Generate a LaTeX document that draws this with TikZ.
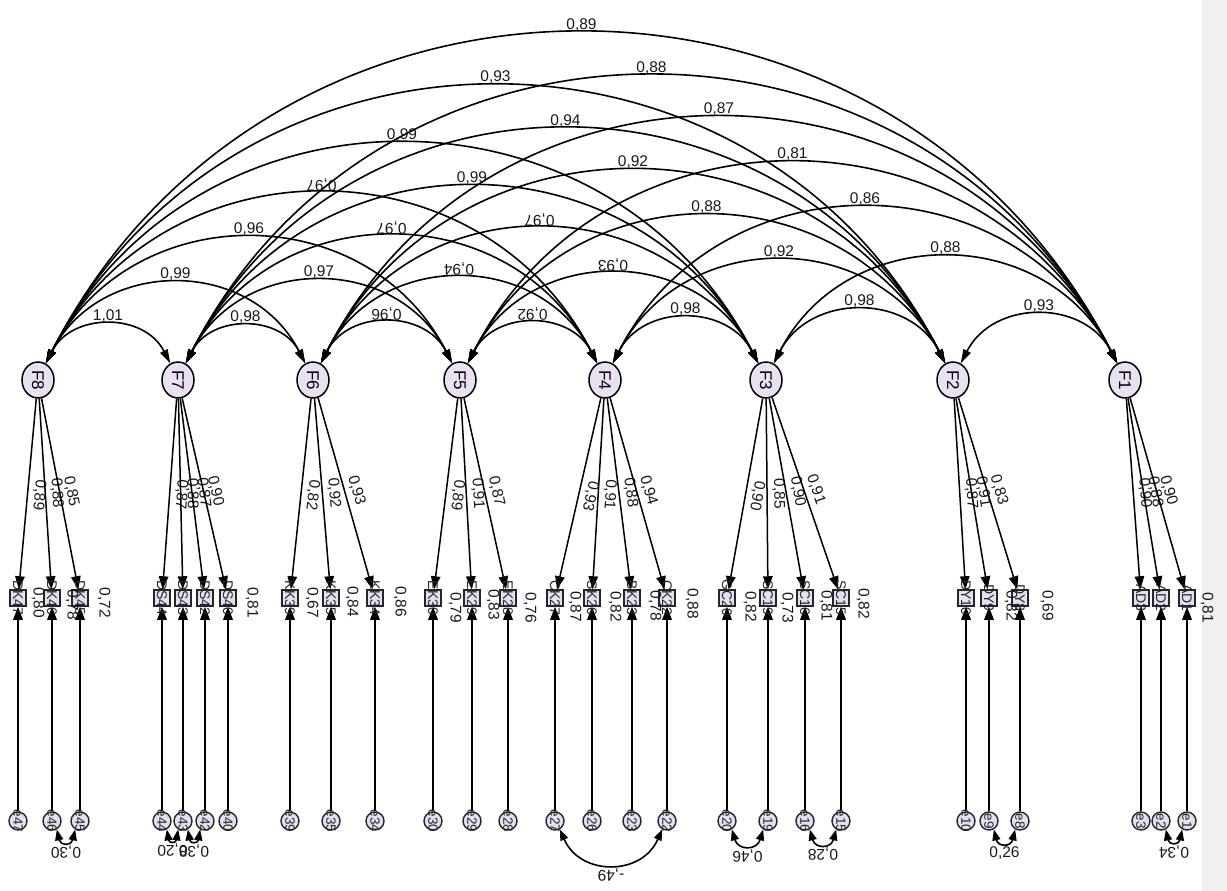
\documentclass[tikz,border=0pt]{standalone}
\usepackage{fontspec}
\setmainfont{Liberation Sans}
\usetikzlibrary{arrows.meta,shapes.geometric,calc}
\definecolor{facfill}{HTML}{E9E1F2}
\definecolor{obsfill}{HTML}{E6DEF2}
\definecolor{stripcol}{HTML}{F0F0F0}
\tikzset{
  fac/.style={ellipse, draw=black, line width=1.5pt, fill=facfill, minimum width=32pt, minimum height=36pt, inner sep=0pt},
  obs/.style={rectangle, draw=black!85, line width=1.5pt, fill=obsfill, minimum size=16pt, inner sep=0pt},
  err/.style={circle, draw=black!85, line width=1.4pt, fill=obsfill, minimum size=18pt, inner sep=0pt},
  lab/.style={font=\fontsize{15.5}{17}\selectfont, text=black!90},
  ftxt/.style={font=\fontsize{17}{18}\selectfont, rotate=-90, inner sep=0pt},
  otxt/.style={font=\fontsize{14}{15}\selectfont, rotate=-90, inner sep=0pt, text=black!85},
  etxt/.style={font=\fontsize{13.5}{14}\selectfont, rotate=-90, inner sep=0pt, text=black!85},
  cov/.style={line width=1.6pt, {Triangle[length=14pt,width=8pt]}-{Triangle[length=14pt,width=8pt]}},
  ecovst/.style={line width=1.6pt, {Triangle[length=11pt,width=8pt]}-{Triangle[length=11pt,width=8pt]}},
  load/.style={line width=1.5pt, -{Triangle[length=13pt,width=9.5pt]}},
  lup/.style={lab, anchor=south, inner sep=2pt},
  lud/.style={lab, rotate=180, anchor=north, inner sep=2pt},
  ldn/.style={lab, rotate=180, anchor=south, inner sep=3pt},
  ldnu/.style={lab, anchor=north, inner sep=3pt},
  ldlab/.style={lab, sloped, allow upside down, pos=0.5, above=3pt, inner sep=1.5pt},
  r2/.style={lab, rotate=-90, inner sep=0pt},
}
% arc between two factors (left #1, right #2)
\newcommand\facarc[4]{%
  \draw[cov] let \p1=(#1.65), \p2=(#2.115), \n1={\x2-\x1} in
    (\p1) .. controls +({0.21*\n1},{0.41*\n1}) and +({-0.21*\n1},{0.41*\n1}) .. (\p2)
    node[midway,#4] (L#1#2) {#3};}
% covariance between two error terms (left #1, right #2)
\newcommand\errcov[4]{%
  \draw[ecovst] let \p1=(#1.-60), \p2=(#2.-120), \n1={\x2-\x1} in
    (\p1) .. controls +({0.2*\n1},{-0.36*\n1-10pt}) and +({-0.2*\n1},{-0.36*\n1-10pt}) .. (\p2)
    node[midway,#4] (C#1#2) {#3};}
% indicator: #1 number, #2 x, #3 factor, #4 box text, #5 loading
\newcommand\ind[5]{%
  \node[obs] (b#1) at (#2,598) {};
  \node[err] (e#1) at (#2,821) {};
  \draw[load] (#3) -- node[ldlab] (ld#1) {#5} (b#1);
  \draw[load] (e#1) -- (b#1);
  \node[otxt] (b#1t) at (b#1) {#4};
  \node[etxt] (e#1t) at (e#1) {e#1};
}
\begin{document}
\begin{tikzpicture}[x=1pt,y=-1pt]
\useasboundingbox (0,0) rectangle (1227,891);
\fill[white] (0,0) rectangle (1227,891);
\fill[stripcol] (1202,0) rectangle (1227,891);

% factors
\foreach \f/\x in {F8/38,F7/178,F6/313,F5/460,F4/605,F3/766,F2/953,F1/1125}{
  \node[fac] (\f) at (\x,380) {};
  \node[ftxt] (\f t) at (\f) {\f};
}

% factor covariances
\facarc{F8}{F1}{0,89}{lup}
\facarc{F8}{F2}{0,93}{lup}
\facarc{F7}{F1}{0,88}{lup}
\facarc{F8}{F3}{0,99}{lup}
\facarc{F7}{F2}{0,94}{lup}
\facarc{F6}{F1}{0,87}{lup}
\facarc{F8}{F4}{0,97}{lud}
\facarc{F7}{F3}{0,99}{lup}
\facarc{F6}{F2}{0,92}{lup}
\facarc{F5}{F1}{0,81}{lup}
\facarc{F8}{F5}{0,96}{lup}
\facarc{F7}{F4}{0,97}{lud}
\facarc{F6}{F3}{0,97}{lud}
\facarc{F5}{F2}{0,88}{lup}
\facarc{F4}{F1}{0,86}{lup}
\facarc{F8}{F6}{0,99}{lup}
\facarc{F7}{F5}{0,97}{lup}
\facarc{F6}{F4}{0,94}{lud}
\facarc{F5}{F3}{0,93}{lud}
\facarc{F4}{F2}{0,92}{lup}
\facarc{F3}{F1}{0,88}{lup}
\facarc{F8}{F7}{1,01}{lup}
\facarc{F7}{F6}{0,98}{lup}
\facarc{F6}{F5}{0,96}{lud}
\facarc{F5}{F4}{0,92}{lud}
\facarc{F4}{F3}{0,98}{lup}
\facarc{F3}{F2}{0,98}{lup}
\facarc{F2}{F1}{0,93}{lup}

% indicators
\ind{47}{18}{F8}{DK47}{0,89}
\ind{46}{52}{F8}{DK46}{0,88}
\ind{45}{80}{F8}{DK45}{0,85}
\ind{44}{162}{F7}{DS44}{0,87}
\ind{43}{183}{F7}{DS43}{0,88}
\ind{42}{205}{F7}{DS42}{0,87}
\ind{40}{228}{F7}{DS40}{0,90}
\ind{39}{290}{F6}{KK39}{0,82}
\ind{35}{331}{F6}{KK35}{0,92}
\ind{34}{375}{F6}{KK34}{0,93}
\ind{30}{433}{F5}{EK30}{0,89}
\ind{29}{472}{F5}{EK29}{0,91}
\ind{28}{508}{F5}{EK28}{0,87}
\ind{27}{555}{F4}{CK27}{0,93}
\ind{26}{592}{F4}{SK26}{0,91}
\ind{23}{632}{F4}{BK23}{0,88}
\ind{22}{667}{F4}{CK22}{0,94}
\ind{20}{727}{F3}{GC20}{0,90}
\ind{19}{768}{F3}{SC19}{0,85}
\ind{16}{805}{F3}{SC16}{0,90}
\ind{15}{841}{F3}{SC15}{0,91}
\ind{10}{966}{F2}{DY10}{0,87}
\ind{9}{989}{F2}{DY9}{0,91}
\ind{8}{1020}{F2}{DY8}{0,83}
\ind{3}{1141}{F1}{AD3}{0,90}
\ind{2}{1161}{F1}{AD2}{0,88}
\ind{1}{1187}{F1}{AD1}{0,90}

% squared multiple correlations
\node[r2] (r47) at (38,603) {0,80};
\node[r2] (r46) at (72,605) {0,78};
\node[r2] (r45) at (104,603) {0,72};
\node[r2] (r40) at (252,603) {0,81};
\node[r2] (r39) at (312,603) {0,67};
\node[r2] (r35) at (352,602) {0,84};
\node[r2] (r34) at (400,602) {0,86};
\node[r2] (r30) at (455,608) {0,79};
\node[r2] (r29) at (493,605) {0,83};
\node[r2] (r28) at (530,608) {0,76};
\node[r2] (r27) at (575,607) {0,87};
\node[r2] (r26) at (615,607) {0,82};
\node[r2] (r23) at (655,606) {0,78};
\node[r2] (r22) at (692,604) {0,88};
\node[r2] (r20) at (750,607) {0,82};
\node[r2] (r19) at (787,608) {0,73};
\node[r2] (r16) at (826,606) {0,81};
\node[r2] (r15) at (863,604) {0,82};
\node[r2] (r9) at (1011,606) {0,82};
\node[r2] (r8) at (1047,606) {0,69};
\node[r2] (r1) at (1207,608) {0,81};

% error covariances
\errcov{e46}{e45}{0,30}{ldn}
\errcov{e44}{e43}{0,20}{ldn}
\errcov{e43}{e42}{0,38}{ldn}
\errcov{e27}{e22}{-,49}{ldn}
\errcov{e20}{e19}{0,46}{ldn}
\errcov{e16}{e15}{0,28}{ldn}
\errcov{e9}{e8}{0,26}{ldnu}
\errcov{e2}{e1}{0,34}{ldn}
\end{tikzpicture}
\end{document}
